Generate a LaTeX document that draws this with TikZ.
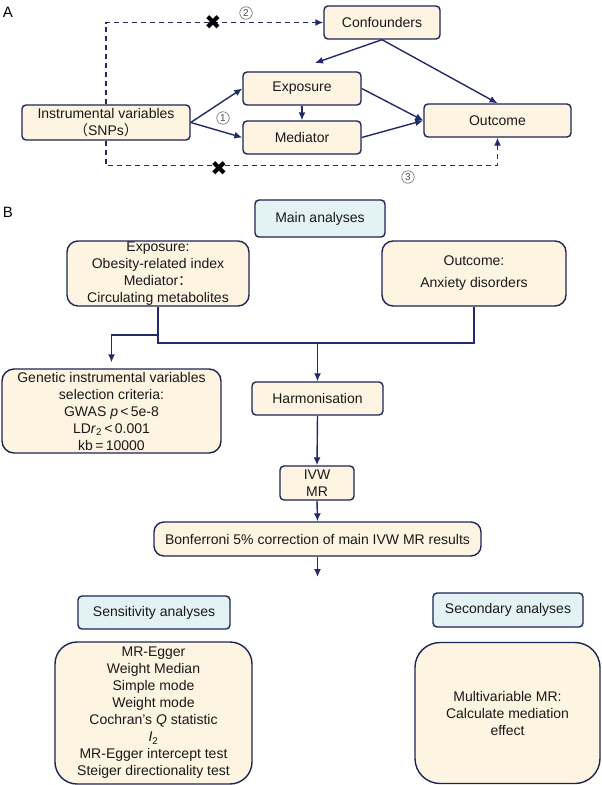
\documentclass[tikz,border=0pt]{standalone}
\usepackage{fontspec}
\setmainfont{Liberation Sans}
\newfontfamily\cjk{Noto Sans CJK SC}
\newfontfamily\symf{DejaVu Sans}
\usetikzlibrary{arrows.meta,calc}
\definecolor{navy}{HTML}{232A6B}
\definecolor{bord}{HTML}{1E2457}
\definecolor{cream}{HTML}{FEF4E2}
\definecolor{lblue}{HTML}{E3F3F3}
\begin{document}
\begin{tikzpicture}[x=1pt,y=-1pt,
  box/.style={draw=bord, fill=cream, line width=1.4pt, rounded corners=4pt, align=center, inner sep=0pt, text=black!90, font=\fontsize{14}{17}\selectfont},
  bbox/.style={box, fill=lblue},
  arr/.style={draw=navy, line width=1.4pt, -{Latex[length=8pt,width=7pt]}},
  dsh/.style={arr, dash pattern=on 5pt off 4pt},
  plain/.style={draw=navy, line width=1.4pt},
  cnum/.style={circle, draw=black!60, line width=0.6pt, inner sep=0pt, minimum size=12.5pt, font=\fontsize{10}{10}\selectfont, text=black!70},
  xmk/.style={inner sep=0pt, font=\symf\fontsize{20}{20}\selectfont},
  lbl/.style={inner sep=0pt, font=\fontsize{15}{15}\selectfont}
]
\useasboundingbox (0,0) rectangle (602,785);
\fill[white] (0,0) rectangle (602,785);
% ---------------- Part A ----------------
\node[lbl] (la) at (8,12) {A};
\node[box, minimum width=116pt, minimum height=33pt] (conf) at (382,22.5) {Confounders};
\node[box, minimum width=118pt, minimum height=33pt] (expo) at (302,88.5) {Exposure};
\node[box, minimum width=118pt, minimum height=33pt] (med) at (302,137.5) {Mediator};
\node[box, minimum width=168pt, minimum height=35pt] (iv) at (106,122.5) {Instrumental variables\\{\cjk （}SNPs{\cjk ）}};
\node[box, minimum width=147pt, minimum height=33pt] (outc) at (497.5,120.5) {Outcome};

\draw[dsh] (iv.north) |- (conf.west);
\draw[dsh] (iv.south) -- ++(0,25) -| (outc.south);
\node[xmk] (x1) at (213,23) {✖};
\node[xmk] (x2) at (219,169) {✖};
\node[cnum] (c1) at (223,118) {1};
\node[cnum] (c2) at (246,13) {2};
\node[cnum] (c3) at (408,177) {3};

\coordinate (cx) at (315,63);
\draw[arr] (conf.south) -- (cx);
\draw[arr] (conf.south) -- (outc.north);
\draw[arr] (iv.east) -- (expo.west);
\draw[arr] (iv.east) -- (med.west);
\draw[arr] (expo.south) -- (med.north);
\draw[arr] (expo.east) -- (outc.west);
\draw[arr] (med.east) -- (outc.west);

% ---------------- Part B ----------------
\node[lbl] (lb) at (8,212) {B};
\node[bbox, minimum width=130pt, minimum height=37pt] (main) at (320,218.5) {Main analyses};
\node[box, rounded corners=11pt, minimum width=182pt, minimum height=65pt] (expB) at (158,273.5) {Exposure:\\Obesity-related index\\Mediator{\cjk ：}\\Circulating metabolites};
\node[box, rounded corners=11pt, minimum width=184pt, minimum height=65pt, font=\fontsize{14}{22}\selectfont] (outB) at (474,273.5) {Outcome:\\Anxiety disorders};
\node[box, rounded corners=12pt, minimum width=219pt, minimum height=84pt] (giv) at (111.5,411) {Genetic instrumental variables\\selection criteria:\\GWAS \textit{p}\,<\,5e-8\\LD\textit{r}\textsubscript{2}\,<\,0.001\\kb\,=\,10000};
\node[box, minimum width=131pt, minimum height=33pt] (harm) at (317.5,398.5) {Harmonisation};
\node[box, minimum width=74pt, minimum height=34pt] (ivw) at (317,483) {IVW\\MR};
\node[box, rounded corners=10pt, minimum width=327pt, minimum height=34pt] (bonf) at (317.5,539) {Bonferroni 5\% correction of main IVW MR results};
\node[bbox, minimum width=152pt, minimum height=33pt] (sensA) at (154,612.5) {Sensitivity analyses};
\node[bbox, minimum width=150pt, minimum height=34pt] (secA) at (508,610) {Secondary analyses};
\node[box, rounded corners=22pt, minimum width=197pt, minimum height=142pt] (sensL) at (153.5,713) {MR-Egger\\Weight Median\\Simple mode\\Weight mode\\Cochran's \textit{Q} statistic\\\textit{I}\textsubscript{2}\\MR-Egger intercept test\\Steiger directionality test};
\node[box, rounded corners=25pt, minimum width=185pt, minimum height=141pt] (secL) at (507.5,713) {Multivariable MR:\\Calculate mediation\\effect};

\coordinate (jl) at (158,343);
\coordinate (jc) at (317.5,343);
\coordinate (jb) at (158,335);
\coordinate (bend) at (317.5,577);
\draw[plain] (expB.south) -- (jl) -| (outB.south);
\draw[arr] (jb) -| ($(giv.north)+(0,-6)$);
\draw[arr] (jc) -- (harm.north);
\draw[arr] (harm.south) -- (ivw.north);
\draw[arr] (ivw.south) -- (bonf.north);
\draw[arr] (bonf.south) -- (bend);
\end{tikzpicture}
\end{document}
